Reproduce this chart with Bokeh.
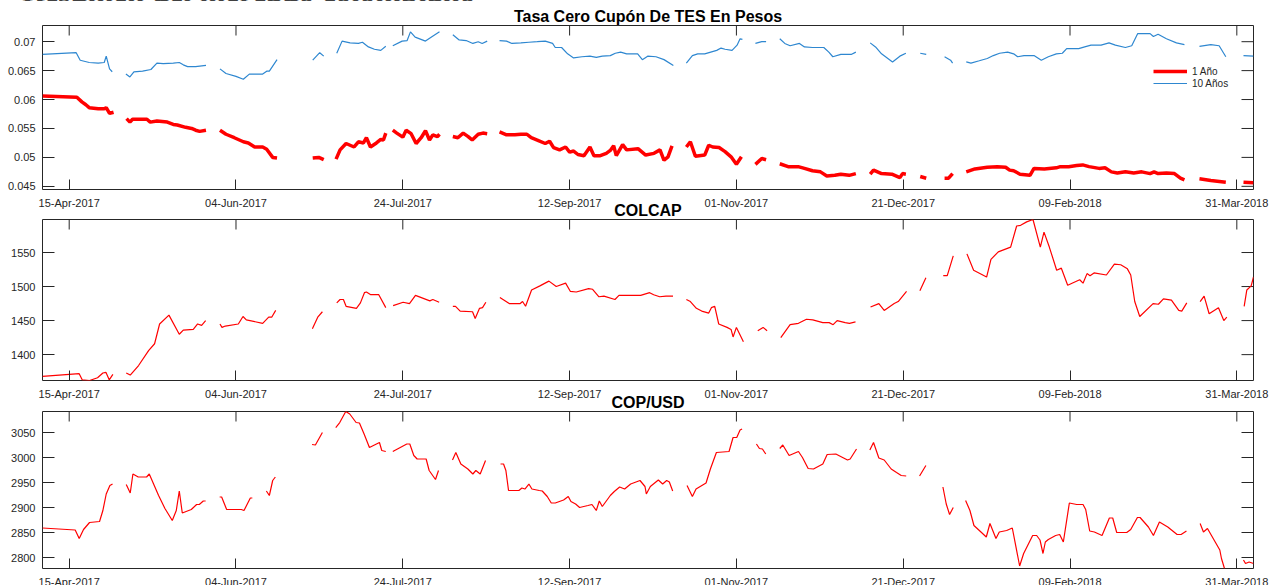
import numpy as np
import pandas as pd
from bokeh.plotting import figure
from bokeh.layouts import column
from bokeh.models import (Range1d, FixedTicker, DatetimeTickFormatter, DatetimeAxis,
                          LinearAxis, Legend, LegendItem, ColumnDataSource, Div)
from bokeh.embed import file_html
from bokeh.resources import INLINE

# ---------------------------------------------------------------- data
BASE_DATE = "2017-04-15"          # day 0 of the day offsets below
X_START = "2017-04-07"
X_END = "2018-04-05"

x_tick_dates = ["2017-04-15", "2017-06-04", "2017-07-24", "2017-09-12",
                "2017-11-01", "2017-12-21", "2018-02-09", "2018-03-31"]
x_tick_labels = ["15-Apr-2017", "04-Jun-2017", "24-Jul-2017", "12-Sep-2017",
                 "01-Nov-2017", "21-Dec-2017", "09-Feb-2018", "31-Mar-2018"]

page_title = "Resumen del mercado colombiano"
titles = ["Tasa Cero Cupón De TES En Pesos", "COLCAP", "COP/USD"]
series_names = ["1 Año", "10 Años"]

tes_ticks = [0.045, 0.05, 0.055, 0.06, 0.065, 0.07]
tes_tick_labels = ["0.045", "0.05", "0.055", "0.06", "0.065", "0.07"]
tes_limits = [0.04445, 0.0728]
colcap_ticks = [1400, 1450, 1500, 1550]
cop_ticks = [2800, 2850, 2900, 2950, 3000, 3050]

# TES 1 year (None = no data)
tes1_days = [-8, 2.3, 3.8, 5, 6, 8.7, 10.5, 11.1, 12.1, 13.3, None,
             17.2, 18.2, 19, 21.5, 23.3, 24.3, 26.3, 29.4, 31.2, 32.4, 34.9, 36.7, 37.9, 39.1, 41, None,
             45.2, 47, 49.5, 52.2, 53.7, 55.6, 58, 59.2, 61, 62.3, None,
             73, 74.8, 76.3, None,
             80, 81.2, 83, 85.4, 86.7, 88.2, 89.1, 90.3, 92.1, 93.4, 94.2, 94.9, None,
             97, 98.2, 100, 101, 102.5, 104, 105.5, 106.8, 108, 109, 110.4, 111, None,
             115, 116.5, 118.1, 119.6, 120.8, 122.6, 124, 125.3, None,
             129, 131.1, 133.6, 135.4, 137.2, 138.5, 140.3, 142.7, 144, 145.2, 147, 148.8, 150, 151.2,
             152.5, 154.3, 156.1, 157.3, 159.2, 161, 162.2, 163.2, 164, 165.9, 167.1, 170.5, 172.8,
             175.3, 177.1, 178.3, 179.5, 180.7, None,
             185, 186.2, 187.7, 190.5, 191.7, 192.9, 194.8, 196.6, 198.4, 200, 201.5, None,
             205.7, 207.6, 208.9, None,
             213, 215.5, 218.5, 220.4, 222.8, 225.2, 227.1, 229.5, 231.3, 233.8, 235.8, None,
             240.1, 241.1, 243.5, 246.6, 249, 249.8, 250.8, None,
             255.1, 256.9, None,
             262.4, 263.6, 264.8, None,
             268.9, 271.5, 275.2, 278.2, 280.7, 281.9, 283.1, 285, 288, 289.2, 292.3, 295.9, 297.1,
             299.6, 302, 303.8, 305.7, 308.7, 310.5, 312.4, 314.2, 316.6, 319.1, 321.5, 324, 325.2,
             326.4, 328.9, 331.3, 333.1, 334.3, None,
             338.8, 342.2, 346.7, None,
             352, 355]
tes1_vals = [0.0606, 0.0604, 0.0596, 0.0591, 0.0586, 0.0584, 0.0584, 0.0586, 0.0576, 0.0578, None,
             0.0567, 0.0561, 0.0566, 0.0566, 0.0566, 0.0561, 0.0563, 0.0561, 0.0557, 0.0556, 0.0552,
             0.0550, 0.0547, 0.0545, 0.0547, None,
             0.0547, 0.0540, 0.0534, 0.0527, 0.0525, 0.0518, 0.0518, 0.0514, 0.0500, 0.0499, None,
             0.0499, 0.0500, 0.0496, None,
             0.0497, 0.0513, 0.0524, 0.0518, 0.0527, 0.0525, 0.0534, 0.0518, 0.0525, 0.0531, 0.0530, 0.0542, None,
             0.0547, 0.0542, 0.0535, 0.0547, 0.0541, 0.0524, 0.0534, 0.0546, 0.0530, 0.0539, 0.0536, 0.0540, None,
             0.0536, 0.0534, 0.0542, 0.0536, 0.0530, 0.0540, 0.0542, 0.0541, None,
             0.0544, 0.0539, 0.0539, 0.0540, 0.0540, 0.0534, 0.0530, 0.0524, 0.0528, 0.0517, 0.0513,
             0.0518, 0.0509, 0.0511, 0.0505, 0.0503, 0.0518, 0.0503, 0.0503, 0.0507, 0.0512, 0.0520,
             0.0503, 0.0522, 0.0513, 0.0515, 0.0504, 0.0507, 0.0513, 0.0495, 0.0501, 0.0520, None,
             0.0518, 0.0527, 0.0502, 0.0504, 0.0521, 0.0518, 0.0517, 0.0510, 0.0501, 0.0488, 0.0501, None,
             0.0488, 0.0498, 0.0496, None,
             0.0489, 0.0484, 0.0484, 0.0481, 0.0477, 0.0475, 0.0468, 0.0469, 0.0471, 0.0469, 0.0472, None,
             0.0471, 0.0478, 0.0472, 0.0471, 0.0465, 0.0472, 0.0471, None,
             0.0467, 0.0464, None,
             0.0464, 0.0464, 0.0472, None,
             0.0475, 0.0480, 0.0483, 0.0484, 0.0483, 0.0478, 0.0477, 0.0471, 0.0469, 0.0481, 0.0480,
             0.0482, 0.0484, 0.0484, 0.0486, 0.0487, 0.0484, 0.0481, 0.0482, 0.0475, 0.0473, 0.0475,
             0.0473, 0.0475, 0.0472, 0.0475, 0.0472, 0.0473, 0.0472, 0.0464, 0.0461, None,
             0.0463, 0.0460, 0.0457, None,
             0.0457, 0.0456]

# TES 10 years
tes10_days = [-8, 2.1, 3.3, 6, 8.7, 10.5, 11.1, 12.1, 12.9, None,
              17, 18.2, 19.4, 22, 24.5, 26.3, 28.2, 31.2, 33, 34.2, 35.5, 37.9, 41, None,
              45.2, 47, 50, 52.2, 54, 56.2, 58, 59.2, 60, 62.3, None,
              73, 75.1, 76.3, None,
              80.2, 81.8, 84.2, 86.7, 87.9, 89.7, 91.5, 93.4, 94.9, None,
              97, 99.8, 101.3, 102.3, 103.7, 106.8, 108.6, 111, None,
              115, 116.9, 119, 121, 122.6, 123.8, 125.3, None,
              129, 131.1, 132.7, 135.4, 137.8, 140.3, 142.7, 144.9, 145.7, 147.6, 149.4, 151.2,
              153.7, 156.1, 158, 159.8, 162.2, 163.7, 165.3, 167.1, 170.4, 171.8, 173.4, 175.9,
              178.3, 181.1, None,
              185, 186.8, 188.4, 190.5, 192.3, 194.1, 195.4, 196.6, 198.7, 200.2, 201.1, 201.8, None,
              205.7, 207.6, 208.9, None,
              213, 214.5, 216.1, 218.9, 220.4, 222.8, 226.2, 227.7, 228.9, 231.3, 234.4, 235.8, None,
              240.1, 241.7, 243.5, 246.8, 249, 250.8, None,
              255.1, 256.9, None,
              262.4, 264.2, 264.8, None,
              268.9, 270.3, 272.8, 275.2, 277, 278.9, 281.3, 283.1, 284.3, 286.2, 289.2, 291.4,
              293.5, 295.9, 297.7, 299, 302.6, 304.4, 306.3, 309.3, 311.7, 313.6, 316.6, 318.5,
              320.3, 324, 325, 326.4, 328.9, 331.9, 334.3, None,
              338.8, 342.2, 344.7, 346.7, None,
              352, 355]
tes10_vals = [0.0678, 0.0681, 0.0668, 0.0664, 0.0663, 0.0664, 0.0675, 0.0653, 0.0648, None,
              0.0644, 0.0639, 0.0648, 0.0649, 0.0652, 0.0663, 0.0662, 0.0663, 0.0664, 0.0660, 0.0657, 0.0657, 0.0659, None,
              0.0653, 0.0645, 0.0640, 0.0635, 0.0644, 0.0644, 0.0644, 0.0649, 0.0649, 0.0669, None,
              0.0668, 0.0681, 0.0675, None,
              0.0680, 0.0701, 0.0698, 0.0697, 0.0699, 0.0691, 0.0687, 0.0685, 0.0692, None,
              0.0693, 0.0701, 0.0702, 0.0717, 0.0708, 0.0701, 0.0708, 0.0717, None,
              0.0712, 0.0703, 0.0702, 0.0697, 0.0700, 0.0697, 0.0701, None,
              0.0702, 0.0701, 0.0697, 0.0698, 0.0699, 0.0700, 0.0701, 0.0697, 0.0690, 0.0690,
              0.0679, 0.0672, 0.0674, 0.0675, 0.0673, 0.0675, 0.0676, 0.0680, 0.0682, 0.0679,
              0.0679, 0.0669, 0.0675, 0.0674, 0.0669, 0.0659, None,
              0.0663, 0.0676, 0.0679, 0.0679, 0.0682, 0.0685, 0.0689, 0.0687, 0.0685, 0.0694, 0.0705, 0.0704, None,
              0.0697, 0.0700, 0.0700, None,
              0.0705, 0.0697, 0.0693, 0.0697, 0.0691, 0.0690, 0.0690, 0.0682, 0.0674, 0.0678, 0.0678, 0.0682, None,
              0.0698, 0.0691, 0.0679, 0.0665, 0.0675, 0.0680, None,
              0.0680, 0.0678, None,
              0.0674, 0.0668, 0.0663, None,
              0.0665, 0.0663, 0.0667, 0.0671, 0.0676, 0.0680, 0.0682, 0.0679, 0.0674, 0.0676,
              0.0676, 0.0668, 0.0674, 0.0679, 0.0680, 0.0688, 0.0688, 0.0691, 0.0694, 0.0694,
              0.0698, 0.0694, 0.0690, 0.0693, 0.0714, 0.0714, 0.0709, 0.0713, 0.0705, 0.0698, 0.0695, None,
              0.0692, 0.0695, 0.0693, 0.0674, None,
              0.0676, 0.0675]

# COLCAP index
colcap_days = [-8, 3, 3.9, 6.1, 8.5, 10.1, 11, 12, 13.1, None,
               17.1, 18.3, 20.8, 23.8, 25.6, 27.1, 29.9, 33, 34.2, 37.2, 38.5, 39.7, 40.9, None,
               45.2, 45.8, 46.8, 50.7, 52.1, 53.1, 58, 59.8, 60.7, 61.9, None,
               72.9, 74.5, 75.9, None,
               80.2, 81.2, 82.2, 83, 86.1, 87.3, 88.5, 89.1, 90.4, 92.8, 94.9, None,
               97.1, 100.1, 102, 103.8, 108.1, 109, 110.9, None,
               115, 115.8, 117.2, 120.9, 121.7, 123, 123.9, 124.9, None,
               129.1, 131.9, 135.2, 135.9, 136.8, 138.6, 141.1, 143.8, 146, 148.8, 150.2, 152,
               155.7, 156.9, 158.8, 160.3, 163.6, 164.8, 171.3, 174, 175.2, 177, 178.9, 181, None,
               185, 186.2, 188, 189.6, 191.7, 192.5, 193.5, 194.7, 197.2, 198.4, 199, 200, 202.1, None,
               206.4, 208, 209.2, None,
               213.3, 216.1, 218.6, 221, 222.9, 225.9, 227.8, 229, 230.2, 232.6, 233.9, 235.7, None,
               240.2, 242.7, 244.3, 247.3, 248.5, 251, None,
               255, 256.8, None,
               262, 263.2, 265, None,
               269.1, 271.1, 275, 276.3, 278.5, 282.2, 284, 285.2, 287, 288.9, 291.1, 292.2, 293.8,
               296, 297.4, 299.3, 302.9, 303.9, 305.1, 306, 307.2, 310.9, 313.3, 315.2, 317.2, 318.2,
               319.4, 320.9, 324.9, 326.5, 328, 330.4, 332.6, 333.5, 335, None,
               339, 340.2, 341.7, 344.5, 346.1, 347, None,
               352.2, 353, 354.3, 355]
colcap_vals = [1368, 1372, 1363, 1362, 1366, 1373, 1374, 1363, 1371, None,
               1373, 1370, 1384, 1406, 1416, 1445, 1458, 1430, 1436, 1437, 1445, 1443, 1450, None,
               1445, 1440, 1442, 1445, 1456, 1451, 1446, 1455, 1455, 1465, None,
               1438, 1455, 1463, None,
               1476, 1481, 1481, 1471, 1468, 1476, 1491, 1492, 1488, 1488, 1469, None,
               1472, 1477, 1475, 1487, 1479, 1481, 1477, None,
               1471, 1471, 1464, 1463, 1453, 1468, 1469, 1477, None,
               1484, 1475, 1475, 1478, 1471, 1495, 1501, 1508, 1500, 1505, 1493, 1492,
               1497, 1496, 1485, 1486, 1481, 1487, 1487, 1491, 1488, 1485, 1486, 1486, None,
               1481, 1478, 1468, 1464, 1461, 1469, 1471, 1445, 1440, 1437, 1426, 1440, 1419, None,
               1435, 1440, 1435, None,
               1425, 1444, 1446, 1452, 1451, 1447, 1447, 1444, 1450, 1447, 1446, 1448, None,
               1470, 1475, 1465, 1475, 1478, 1493, None,
               1494, 1513, None,
               1516, 1516, 1545, None,
               1548, 1524, 1514, 1540, 1551, 1558, 1589, 1590, 1595, 1598.5, 1558, 1580, 1558,
               1524, 1527, 1502, 1510, 1505, 1519, 1516, 1520, 1517, 1533, 1532, 1526, 1517,
               1478, 1456, 1475, 1474, 1482, 1480, 1465, 1464, 1476, None,
               1478, 1486, 1460, 1469, 1450, 1455, None,
               1471, 1495, 1501, 1514]

# COP/USD exchange rate
cop_days = [-8, 1.8, 3, 4.3, 6.1, 9.1, 10.1, 11.1, 12.2, 13, None,
            17.1, 18.3, 19.1, 20.7, 23.2, 24, 26.8, 28.7, 30.9, 32.1, 33, 33.9, 36.6, 38.2, 39, 40.2, 40.9, None,
            45.1, 45.7, 47.2, 51.6, 52.4, 54.3, 54.9, None,
            59.1, 60, 61, 61.8, None,
            72.8, 73.8, 75.9, None,
            79.9, 81.1, 82.9, 84.1, 86, 87, 88.4, 90, 93, 93.7, 94.9, None,
            97, 101.2, 102.1, 103.3, 104.3, 107, 107.9, 109.8, 110.7, None,
            114.9, 115.9, 117.4, 119.5, 121, 121.9, 123.2, 124.8, None,
            129.3, 130.2, 130.9, 131.7, 134.8, 135.7, 136.6, 137.8, 138.7, 140.9,
            141.8, 143.3, 144.5, 145.7, 148.2, 149.6, 150.4, 151.8, 153, 155.5,
            156.7, 158, 158.9, 159.8, 162.2, 163.4, 165, 166.5, 168.3, 171.1,
            172.6, 173, 174.2, 176.6, 177.9, 179.1, 179.9, 180.9, None,
            185.2, 186.8, 187.9, 190.9, 192.2, 194, 197.8, 199, 200.1, 201.1, 201.7, None,
            206, 206.9, 207.8, 208.8, None,
            213, 213.9, 215.8, 218.6, 219.8, 221.5, 223.1, 225.9, 227.2, 229.8, 233.3, 234.1, 236, None,
            240, 241.1, 242.7, 244.3, 246.4, 248, 249.4, 250.9, None,
            254.9, 256.8, None,
            261.9, 262.9, 263.9, 265, None,
            268.7, 270, 271.2, 273.3, 274.9, 276, 277.8, 278.8, 281, 282.7,
            284.9, 286.1, 288.8, 290, 291, 291.9, 292.6, 293.5, 295.7, 296.9,
            298, 299.8, 302, 303.9, 304.7, 305.9, 307.3, 309.6, 311.8, 312.8,
            314, 317, 318.2, 320.2, 321, 323.5, 325, 326.8, 329.3, 332.1, 333.3, 334.9, None,
            339, 340, 341.2, 344.9, 345.4, 346.3, None,
            352, 352.6, 353.7, 355]
cop_vals = [2859, 2855, 2838, 2856, 2870, 2872, 2894, 2927, 2944, 2947, None,
            2946, 2929, 2967, 2961, 2961, 2967, 2924, 2898, 2874, 2894, 2933, 2889, 2896, 2906, 2906, 2913, 2913, None,
            2921, 2921, 2896, 2896, 2894, 2919, 2919, None,
            2933, 2924, 2954, 2961, None,
            3026, 3025, 3050, None,
            3060, 3070, 3092, 3087, 3070, 3069, 3047, 3020, 3030, 3014, 3012, None,
            3012, 3027, 3027, 3004, 2997, 2997, 2974, 2956, 2974, None,
            2995, 3010, 2987, 2977, 2967, 2974, 2967, 2994, None,
            2987, 2987, 2974, 2934, 2934, 2939, 2937, 2947, 2937, 2934,
            2933, 2922, 2909, 2909, 2915, 2922, 2912, 2907, 2900, 2904,
            2906, 2894, 2913, 2902, 2924, 2932, 2941, 2937, 2947, 2954,
            2942, 2927, 2942, 2955, 2947, 2954, 2951, 2933, None,
            2944, 2922, 2937, 2949, 2977, 3010, 3012, 3040, 3040, 3055, 3057, None,
            3027, 3018, 3017, 3007, None,
            3018, 3025, 3004, 3012, 3000, 2978, 2977, 2987, 3006, 3007, 2995, 2997, 3017, None,
            3015, 3030, 2999, 2995, 2977, 2970, 2964, 2963, None,
            2963, 2984, None,
            2941, 2907, 2886, 2900, None,
            2914, 2894, 2864, 2851, 2841, 2868, 2838, 2851, 2854, 2859,
            2783, 2808, 2844, 2844, 2835, 2808, 2831, 2836, 2844, 2846,
            2831, 2909, 2906, 2906, 2896, 2853, 2851, 2844, 2879, 2879,
            2850, 2850, 2856, 2880, 2880, 2861, 2844, 2871, 2861, 2846, 2846, 2853, None,
            2868, 2851, 2858, 2815, 2798, 2778, None,
            2795, 2788, 2791, 2788]

# ---------------------------------------------------------------- helpers
DAY_MS = 86400000.0
BASE_MS = pd.Timestamp(BASE_DATE).value / 1e6


def to_ms(days):
    return np.array([BASE_MS + d * DAY_MS if d is not None else np.nan for d in days], dtype=float)


def to_arr(vals):
    return np.array([v if v is not None else np.nan for v in vals], dtype=float)


def date_ms(s):
    return pd.Timestamp(s).value / 1e6


x_ticks_ms = [date_ms(d) for d in x_tick_dates]
X0, X1 = date_ms(X_START), date_ms(X_END)
FONT = "Liberation Sans"
INK = "#262626"
W = 1281
FMT = "%d-%b-%Y"


def style_axis(ax, tick_len):
    ax.axis_line_color = None
    ax.major_tick_in = tick_len
    ax.major_tick_out = 0
    ax.minor_tick_in = 0
    ax.minor_tick_out = 0
    ax.major_tick_line_color = INK
    ax.major_tick_line_width = 1
    ax.major_label_text_font = FONT
    ax.major_label_text_color = INK
    ax.major_label_text_font_size = "11px"
    ax.major_label_standoff = 7


def make_panel(height, left, right, top, bottom, y_limits, y_ticks, y_labels,
               title, title_standoff, transparent):
    p = figure(width=W, height=height, x_axis_type=None, y_axis_type=None,
               x_range=Range1d(X0, X1), y_range=Range1d(y_limits[0], y_limits[1]),
               output_backend="svg", toolbar_location=None,
               min_border_left=left, min_border_right=right,
               min_border_top=top, min_border_bottom=bottom)
    p.grid.visible = False
    p.outline_line_color = INK
    p.outline_line_width = 1
    p.background_fill_color = "white"
    if transparent:
        p.border_fill_alpha = 0
    else:
        p.border_fill_color = "white"

    p.title.text = title
    p.title.align = "center"
    p.title.text_font = FONT
    p.title.text_font_style = "bold"
    p.title.text_font_size = "16px"
    p.title.text_color = "black"
    p.title.standoff = title_standoff

    fmt = DatetimeTickFormatter(microseconds=FMT, milliseconds=FMT, seconds=FMT, minsec=FMT,
                                minutes=FMT, hourmin=FMT, hours=FMT, days=FMT,
                                months=FMT, years=FMT)
    xb = DatetimeAxis(ticker=FixedTicker(ticks=x_ticks_ms), formatter=fmt,
                      major_label_overrides=dict(zip(x_ticks_ms, x_tick_labels)))
    style_axis(xb, 10)
    p.add_layout(xb, "below")

    yl = LinearAxis(ticker=FixedTicker(ticks=y_ticks),
                    major_label_overrides=dict(zip(y_ticks, y_labels)))
    style_axis(yl, 12)
    p.add_layout(yl, "left")

    # inward ticks on the top and right edges of the box
    p.ray(x=x_ticks_ms, y=[y_limits[1]] * len(x_ticks_ms), length=10, angle=-np.pi / 2,
          length_units="screen", line_color=INK, line_width=1)
    p.ray(x=[X1] * len(y_ticks), y=y_ticks, length=12, angle=np.pi,
          length_units="screen", line_color=INK, line_width=1)
    return p


# ---------------------------------------------------------------- panel 1: TES
p1 = make_panel(212, 42, 23, 25, 23, tes_limits, tes_ticks, tes_tick_labels,
                titles[0], 2, False)
src_1y = ColumnDataSource(dict(x=to_ms(tes1_days), y=to_arr(tes1_vals)))
src_10y = ColumnDataSource(dict(x=to_ms(tes10_days), y=to_arr(tes10_vals)))
r1 = p1.line("x", "y", source=src_1y, line_color="#ff0000", line_width=3.5)
r10 = p1.line("x", "y", source=src_10y, line_color="#2e87d0", line_width=1.2)
legend = Legend(items=[LegendItem(label=series_names[0], renderers=[r1]),
                       LegendItem(label=series_names[1], renderers=[r10])],
                location=(1111, 100), border_line_color=None, background_fill_alpha=0,
                glyph_width=34, glyph_height=12, label_height=12, spacing=0, padding=0,
                margin=0, label_standoff=5, label_text_font=FONT,
                label_text_font_size="10px", label_text_color=INK)
p1.add_layout(legend, "center")

# ---------------------------------------------------------------- panel 2: COLCAP
colcap_y = to_arr(colcap_vals)
p2 = make_panel(206, 40, 28, 22, 23, [np.nanmin(colcap_y), np.nanmax(colcap_y)],
                colcap_ticks, [str(t) for t in colcap_ticks], titles[1], 2, True)
p2.line(to_ms(colcap_days), colcap_y, line_color="#ff0000", line_width=1.2)

# ---------------------------------------------------------------- panel 3: COP/USD
cop_y = to_arr(cop_vals)
p3 = make_panel(202, 40, 28, 22, 23, [np.nanmin(cop_y), np.nanmax(cop_y)],
                cop_ticks, [str(t) for t in cop_ticks], titles[2], 2, True)
p3.line(to_ms(cop_days), cop_y, line_color="#ff0000", line_width=1.2)

# page heading, cut off by the top edge of the page as in the reference
heading = Div(text=page_title, width=560, height=30,
              styles={"margin-top": "-23px", "margin-left": "22px",
                      "font-family": "Liberation Serif", "font-weight": "bold",
                      "font-size": "31px", "line-height": "30px",
                      "white-space": "nowrap", "color": "black"})

p1.styles = {"margin-top": "-12px"}
p2.styles = {"margin-top": "-15px"}
p3.styles = {"margin-top": "-14px"}

layout = column(heading, p1, p2, p3, height=585, styles={"overflow": "hidden"})

open("out.html", "w").write(file_html(layout, INLINE))
